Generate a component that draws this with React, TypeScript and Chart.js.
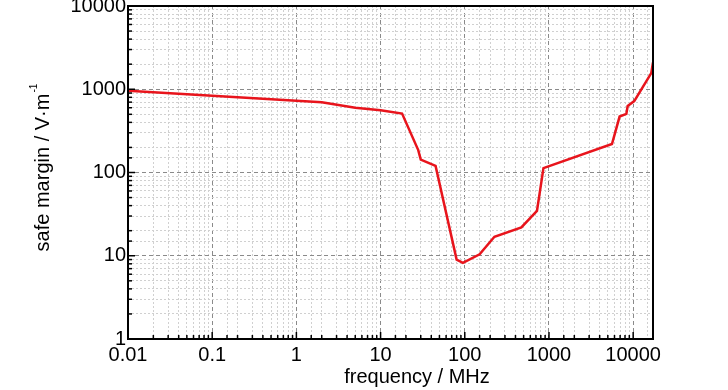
import React, { useEffect, useRef } from 'react';
import { Chart, registerables } from 'chart.js';

Chart.register(...registerables);

const frequencyMHz = [0.01, 2, 5, 10, 18, 28, 30, 45, 80, 95, 150, 225, 470, 720, 860, 5600, 6900, 8300, 8600, 10300, 16400, 17200];
const safeMargin = [960, 700, 600, 560, 510, 186, 143, 120, 9.0, 8.2, 10.4, 16.9, 21.9, 34.5, 113, 220, 470, 505, 630, 720, 1560, 2100];

const xTickValues = [0.01, 0.1, 1, 10, 100, 1000, 10000];
const xTickLabels = ['0.01', '0.1', '1', '10', '100', '1000', '10000'];
const yTickValues = [1, 10, 100, 1000, 10000];
const yTickLabels = ['1', '10', '100', '1000', '10000'];

const xTitle = 'frequency / MHz';
const yTitle = 'safe margin / V·m';
const yTitleSup = '-1';

const FONT = '"Liberation Sans", Arial, sans-serif';

function isMajor(v: number) {
  const l = Math.log10(v);
  return Math.abs(l - Math.round(l)) < 1e-6;
}

function labelFor(v: number, values: number[], labels: string[]) {
  for (let i = 0; i < values.length; i++) {
    if (Math.abs(values[i] - v) / values[i] < 1e-6) return labels[i];
  }
  return '';
}

const framePlugin = {
  id: 'frame',
  afterDraw(chart: any) {
    const { ctx, chartArea, scales } = chart;
    const { left, right, top, bottom } = chartArea;
    ctx.save();
    ctx.strokeStyle = '#000';
    ctx.lineWidth = 1.5;
    ctx.setLineDash([]);
    scales.x.ticks.forEach((t: any) => {
      if (t.value > 10000 * 1.0001) return;
      const px = scales.x.getPixelForValue(t.value);
      const len = isMajor(t.value) ? 7 : 4;
      ctx.beginPath();
      ctx.moveTo(px, bottom);
      ctx.lineTo(px, bottom - len);
      ctx.stroke();
    });
    scales.y.ticks.forEach((t: any) => {
      const py = scales.y.getPixelForValue(t.value);
      const len = isMajor(t.value) ? 7 : 4;
      ctx.beginPath();
      ctx.moveTo(left, py);
      ctx.lineTo(left + len, py);
      ctx.stroke();
    });
    ctx.lineWidth = 2;
    ctx.strokeRect(left, top, right - left, bottom - top);

    // axis titles
    ctx.fillStyle = '#000';
    ctx.font = `20px ${FONT}`;
    ctx.textAlign = 'center';
    ctx.textBaseline = 'alphabetic';
    ctx.fillText(xTitle, 417, 383);

    ctx.translate(49, (top + bottom) / 2);
    ctx.rotate(-Math.PI / 2);
    ctx.font = `20px ${FONT}`;
    const wMain = ctx.measureText(yTitle).width;
    ctx.textAlign = 'left';
    ctx.fillText(yTitle, -wMain / 2, 0);
    ctx.font = `10px ${FONT}`;
    ctx.fillText(yTitleSup, wMain / 2 + 1, -12);
    ctx.restore();
  },
};

export default function App() {
  const ref = useRef<HTMLCanvasElement | null>(null);

  useEffect(() => {
    document.body.style.margin = '0';
    const canvas = ref.current;
    if (!canvas) return;
    const points = frequencyMHz.map((x, i) => ({ x, y: safeMargin[i] }));
    const gridColor = (c: any) => (c.tick && isMajor(c.tick.value) ? '#8a8a8a' : '#d0d0d0');
    const gridDash = (c: any) => (c.tick && isMajor(c.tick.value) ? [4, 3] : [2, 2]);
    const chart = new Chart(canvas, {
      type: 'scatter',
      data: {
        datasets: [
          {
            data: points,
            showLine: true,
            borderColor: '#e8141c',
            backgroundColor: '#e8141c',
            borderWidth: 2.5,
            pointRadius: 0,
            tension: 0,
          },
        ],
      },
      options: {
        animation: false,
        responsive: false,
        devicePixelRatio: 1,
        layout: { padding: { top: 6, right: 75, left: 0, bottom: 0 } },
        plugins: { legend: { display: false }, tooltip: { enabled: false } },
        scales: {
          x: {
            type: 'logarithmic',
            min: 0.01,
            max: 17200,
            grid: { color: gridColor, lineWidth: 1, drawTicks: false },
            border: { display: false, dash: gridDash },
            ticks: {
              autoSkip: false,
              maxRotation: 0,
              padding: 4,
              color: '#000',
              font: { family: FONT, size: 20 },
              callback: (v: any) => labelFor(Number(v), xTickValues, xTickLabels),
            },
            afterFit: (s: any) => {
              s.height = 51;
              s.paddingLeft = 0;
              s.paddingRight = 0;
            },
          },
          y: {
            type: 'logarithmic',
            min: 1,
            max: 10000,
            grid: { color: gridColor, lineWidth: 1, drawTicks: false },
            border: { display: false, dash: gridDash },
            ticks: {
              autoSkip: false,
              padding: 2,
              color: '#000',
              font: { family: FONT, size: 20 },
              callback: (v: any) => labelFor(Number(v), yTickValues, yTickLabels),
            },
            afterFit: (s: any) => {
              s.width = 128;
              s.paddingTop = 0;
              s.paddingBottom = 0;
            },
          },
        },
      },
      plugins: [framePlugin],
    } as any);
    return () => chart.destroy();
  }, []);

  return (
    <div style={{ width: 728, height: 390 }}>
      <canvas ref={ref} width={728} height={390} style={{ display: 'block' }} />
    </div>
  );
}
